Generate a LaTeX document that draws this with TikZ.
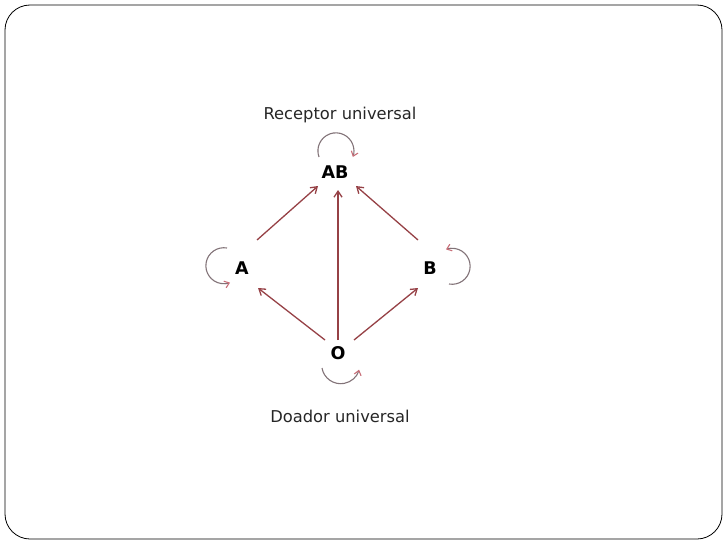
\documentclass[tikz,border=0pt]{standalone}
\usepackage{fontspec}
\setmainfont{DejaVu Sans}
\usetikzlibrary{arrows.meta}
\definecolor{arr}{RGB}{150,65,70}
\definecolor{loopc}{RGB}{130,115,120}
\definecolor{loophead}{RGB}{200,110,120}
\begin{document}
\begin{tikzpicture}[x=1pt,y=-1pt,
  lbl/.style={font=\fontsize{16.3}{18}\selectfont, text=black!85},
  grp/.style={font=\bfseries\fontsize{17.5}{19}\selectfont, inner sep=2pt},
  conn/.style={draw=arr, line width=1.3pt, -{Straight Barb[length=6pt,width=8pt]}},
  lp/.style={draw=loopc, line width=1.1pt, -{Straight Barb[length=4.5pt,width=7pt,color=loophead]}}]
\useasboundingbox (0,0) rectangle (728,546);
\draw[line width=0.8pt, rounded corners=25pt] (5,5) rectangle (722,539);
\node[lbl] (rec) at (340,115) {Receptor universal};
\node[lbl] (doa) at (340,416) {Doador universal};
\node[grp] (AB) at (335,172) {AB};
\node[grp] (A) at (242,268) {A};
\node[grp] (B) at (430,268) {B};
\node[grp] (O) at (338,353) {O};
\draw[conn] ([shift={(15,-28)}]A.center) -- ([shift={(-17,14)}]AB.center);
\draw[conn] ([shift={(-12,-28)}]B.center) -- ([shift={(21,14)}]AB.center);
\draw[conn] ([shift={(0,-13)}]O.center) -- ([shift={(3,18)}]AB.center);
\draw[conn] ([shift={(-13,-13)}]O.center) -- ([shift={(16,20)}]A.center);
\draw[conn] ([shift={(16,-13)}]O.center) -- ([shift={(-12,20)}]B.center);
\draw[lp] ([shift={(-16,-15)}]AB.center) arc[start angle=-200, end angle=20, radius=18];
\draw[lp] ([shift={(-15,-20)}]A.center) arc[start angle=-80, end angle=-290, radius=18];
\draw[lp] ([shift={(19,16)}]B.center) arc[start angle=100, end angle=-110, radius=18];
\draw[lp] ([shift={(-16,15)}]O.center) arc[start angle=-190, end angle=-345, radius=19];
\end{tikzpicture}
\end{document}
